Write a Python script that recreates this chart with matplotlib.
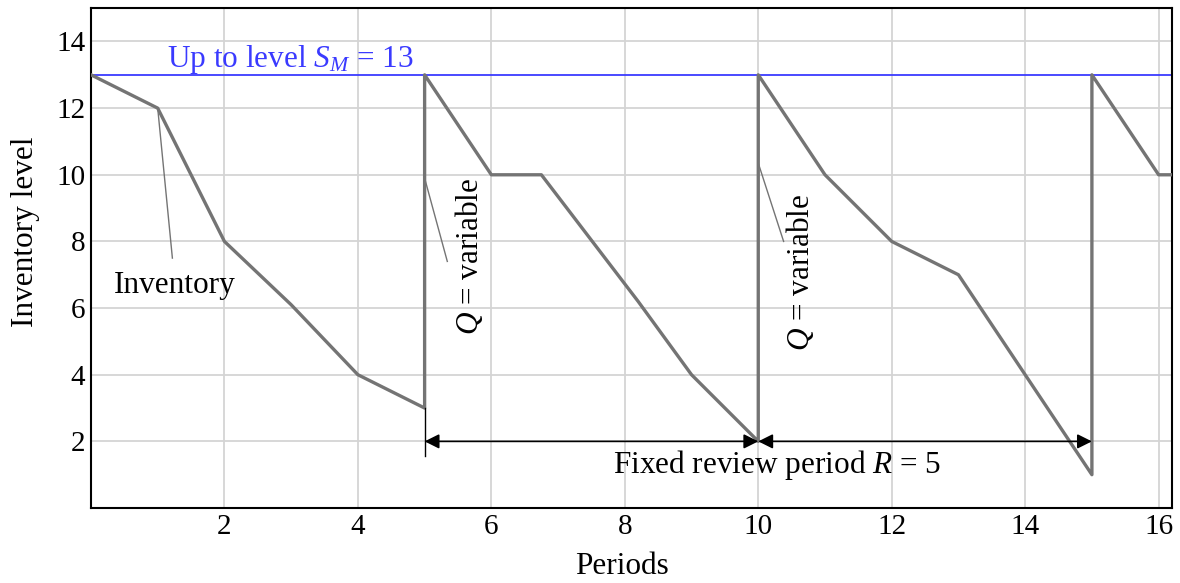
import matplotlib
matplotlib.use("Agg")
import matplotlib.pyplot as plt

# inventory path (period, level)
periods = [0, 1, 2, 3, 4, 5, 5, 6, 6.75, 8.2, 9, 10, 10, 11, 12, 13, 14, 15, 15, 16, 16.2]
levels = [13, 12, 8, 6.1, 4, 3, 13, 10, 10, 6.2, 4, 2, 13, 10, 8, 7, 4, 1, 13, 10, 10]

max_level = 13
review_points = [5, 10, 15]
x_ticks = [2, 4, 6, 8, 10, 12, 14, 16]
y_ticks = [2, 4, 6, 8, 10, 12, 14]

plt.rcParams['font.family'] = ['Liberation Serif', 'DejaVu Serif']
plt.rcParams['mathtext.fontset'] = 'custom'
plt.rcParams['mathtext.it'] = 'Liberation Serif:italic'
plt.rcParams['mathtext.rm'] = 'Liberation Serif'

fs = 22.5

fig = plt.figure(figsize=(11.8, 5.83), dpi=100)
ax = fig.add_axes([0.0771, 0.1286, 0.9161, 0.8574])

ax.set_xlim(0, 16.2)
ax.set_ylim(0, 15)
ax.set_xticks(x_ticks)
ax.set_yticks(y_ticks)
ax.grid(True, color='#d4d4d4', linewidth=1.3)
ax.set_axisbelow(True)
ax.tick_params(length=0, labelsize=21, pad=4)
for s in ax.spines.values():
    s.set_linewidth(1.5)

ax.axhline(max_level, color='#3a3aff', linewidth=1.3, zorder=2)
ax.text(2.99, 13.24, r'Up to level $S_M$ = 13', color='#3a3aff', fontsize=fs,
        ha='center', va='baseline')

ax.plot(periods, levels, color='#747474', linewidth=2.4, zorder=3)

# review tick at the start of the first cycle
ax.plot([review_points[0], review_points[0]], [1.55, 3], color='black', linewidth=1.0, zorder=3)

# review period arrows
arrow = dict(arrowstyle='<|-|>', color='black', linewidth=1.2, mutation_scale=22, shrinkA=0, shrinkB=0)
ax.annotate('', xy=(review_points[0], 2), xytext=(review_points[1], 2), arrowprops=arrow, zorder=4)
ax.annotate('', xy=(review_points[1], 2), xytext=(review_points[2], 2), arrowprops=arrow, zorder=4)
ax.text(7.82, 1.04, r'Fixed review period $R$ = 5', fontsize=fs, ha='left', va='baseline')

# inventory label with leader
ax.plot([1.0, 1.22], [12, 7.5], color='#747474', linewidth=1.0)
ax.text(0.35, 6.45, 'Inventory', fontsize=fs, ha='left', va='baseline')

# order quantity labels
ax.plot([5.0, 5.34], [9.9, 7.4], color='#747474', linewidth=1.0)
ax.text(5.66, 7.55, r'$Q$ = variable', fontsize=fs, rotation=90, ha='center', va='center')
ax.plot([10.0, 10.38], [10.35, 8.0], color='#747474', linewidth=1.0)
ax.text(10.62, 7.07, r'$Q$ = variable', fontsize=fs, rotation=90, ha='center', va='center')

fig.text(622 / 1180, 1 - 574 / 583, 'Periods', fontsize=fs, ha='center', va='baseline')
fig.text(26 / 1180, 1 - 232 / 583, 'Inventory level', fontsize=fs, rotation=90,
         ha='center', va='center')

fig.savefig('out.png', dpi=100)
